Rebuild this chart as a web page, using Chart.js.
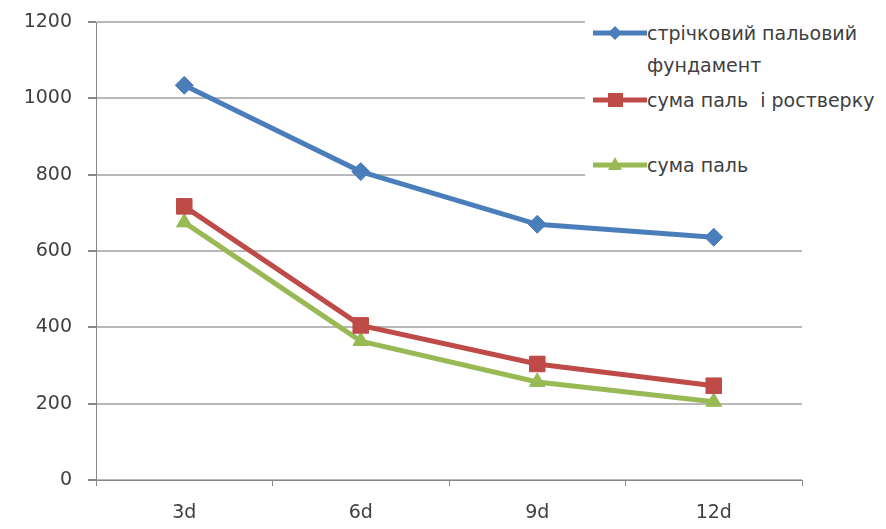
<!DOCTYPE html>
<html>
<head>
<meta charset="utf-8">
<script src="https://cdn.jsdelivr.net/npm/chart.js@4/dist/chart.umd.min.js"></script>
<style>
  body { margin: 0; background: #fff; }
  #wrap { position: relative; width: 886px; height: 529px; }
  #legend {
    position: absolute; left: 585px; top: 0; width: 301px; height: 200px;
    background: #fff; font-family: "DejaVu Sans", sans-serif; font-size: 19px; color: #404040;
  }
  .item { position: absolute; left: 6px; display: flex; align-items: flex-start; }
  .item span { line-height: 32px; white-space: pre; }
  .item svg { flex: none; }
</style>
</head>
<body>
<div id="wrap">
  <canvas id="chart" width="886" height="529"></canvas>
  <div id="legend"></div>
</div>
<script>
// categories and values
const categories = ['3d', '6d', '9d', '12d'];
const seriesNames = ['стрічковий пальовий\nфундамент', 'сума паль  і ростверку', 'сума паль'];
const stripPile = [1034, 808, 670, 636];
const pilesAndGrillage = [717, 405, 304, 247];
const pilesOnly = [675, 364, 257, 205];
const yTicks = [0, 200, 400, 600, 800, 1000, 1200];

const colors = ['#4a7ebb', '#be4b48', '#98b954'];
const markers = ['rectRot', 'rect', 'triangle'];
const radii = [9, 11, 9];
const legendTops = [17, 84, 149];

const values = [stripPile, pilesAndGrillage, pilesOnly];

const datasets = values.map((data, i) => ({
    label: seriesNames[i].replace('\n', ' '),
    data: data,
    borderColor: colors[i],
    backgroundColor: colors[i],
    borderWidth: 5,
    pointStyle: markers[i],
    pointRadius: radii[i],
    pointBorderWidth: 1,
    tension: 0,
    fill: false,
}));

const font = { family: '"DejaVu Sans", sans-serif', size: 19 };

new Chart(document.getElementById('chart'), {
    type: 'line',
    data: { labels: categories, datasets: datasets },
    options: {
        responsive: false,
        animation: false,
        layout: { padding: { left: 0, right: 84, top: 22, bottom: 0 } },
        plugins: { legend: { display: false }, tooltip: { enabled: false } },
        scales: {
            x: {
                offset: true,
                grid: { offset: true, drawOnChartArea: false, drawTicks: true, tickLength: 6, color: '#888', lineWidth: 1 },
                border: { color: '#888', width: 1 },
                ticks: { color: '#404040', font: font, padding: 16 },
                afterFit: (s) => { s.height = 49; },
            },
            y: {
                min: 0, max: 1200,
                grid: { color: '#b8b8b8', lineWidth: 2, tickLength: 8, tickColor: '#888' },
                border: { color: '#888', width: 1 },
                ticks: { color: '#404040', font: font, padding: 16, callback: (v) => String(v) },
                afterBuildTicks: (s) => { s.ticks = yTicks.map(v => ({ value: v })); },
                afterFit: (s) => { s.width = 96; s.paddingTop = 0; s.paddingBottom = 0; },
            },
        },
    },
});

// legend drawn as html on a white box over the top right of the plot
function markerSvg(i) {
    const c = colors[i];
    let m = '';
    if (markers[i] === 'rectRot') m = `<polygon points="17,16 24,9 31,16 24,23" fill="${c}"/>`;
    if (markers[i] === 'rect') m = `<rect x="17" y="9" width="15" height="14" fill="${c}"/>`;
    if (markers[i] === 'triangle') m = `<polygon points="24,8 31,21 17,21" fill="${c}"/>`;
    return `<svg width="56" height="32"><line x1="2" y1="16" x2="56" y2="16" stroke="${c}" stroke-width="5"/>${m}</svg>`;
}
const legend = document.getElementById('legend');
seriesNames.forEach((name, i) => {
    const item = document.createElement('div');
    item.className = 'item';
    item.style.top = legendTops[i] + 'px';
    const span = document.createElement('span');
    span.textContent = name;
    item.innerHTML = markerSvg(i);
    item.appendChild(span);
    legend.appendChild(item);
});
</script>
</body>
</html>
